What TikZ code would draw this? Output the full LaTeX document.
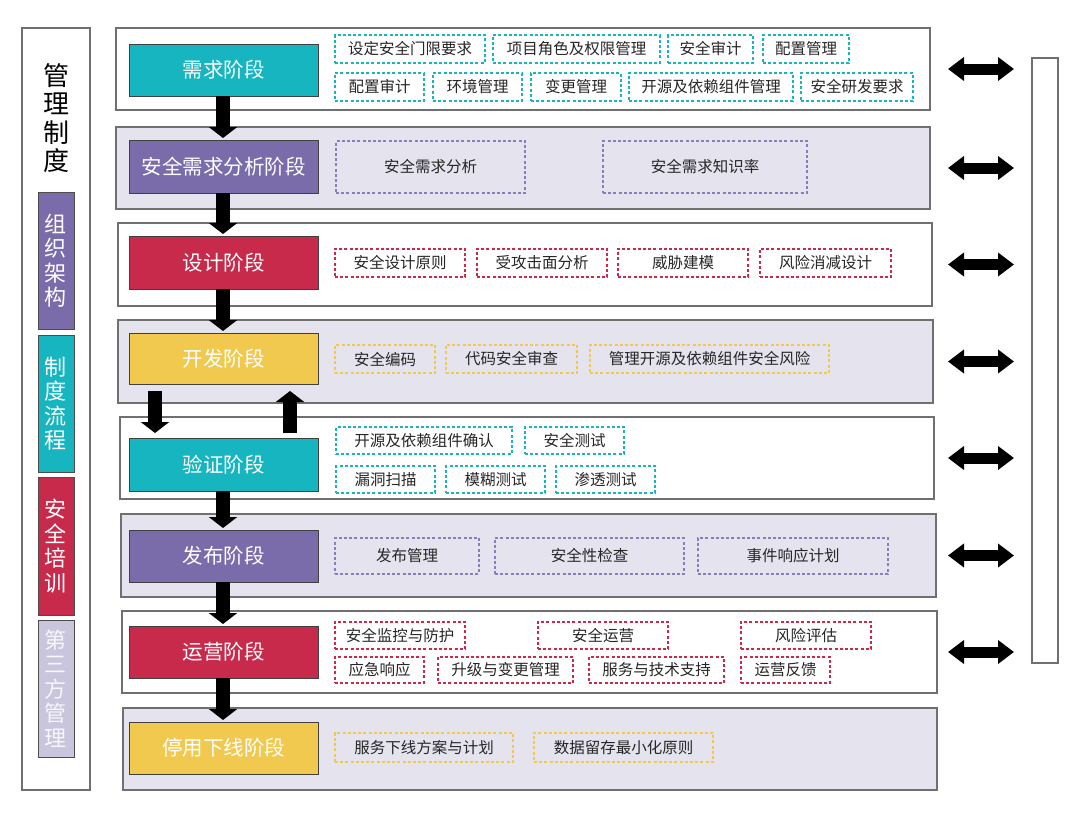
\documentclass[tikz,border=0pt]{standalone}
\usepackage{fontspec}
\setmainfont{Noto Sans CJK SC}
\usetikzlibrary{arrows.meta}
\definecolor{cteal}{HTML}{16B5C0}
\definecolor{cpurp}{HTML}{7A6BAA}
\definecolor{cred}{HTML}{C82A4B}
\definecolor{cyel}{HTML}{F2C94F}
\definecolor{clav}{HTML}{E4E3EE}
\definecolor{clavtwo}{HTML}{C9C5DD}
\definecolor{cdpurp}{HTML}{8B7DBC}
\definecolor{cgray}{HTML}{707070}
\newcommand\bx[7]{%
  \pgfmathsetmacro\bxw{#5-#3}\pgfmathsetmacro\bxh{#6-#4}%
  \pgfmathsetmacro\bxcx{(#3+#5)/2}\pgfmathsetmacro\bxcy{(#4+#6)/2}%
  \node[#2, minimum width=\bxw pt, minimum height=\bxh pt] (#1) at (\bxcx,\bxcy) {#7};}
\begin{document}
\begin{tikzpicture}[x=1pt,y=-1pt,
  panelW/.style={draw=cgray, line width=1.2pt, fill=white, inner sep=0pt, outer sep=0pt},
  panelL/.style={panelW, fill=clav},
  stagebox/.style={draw=black!75, line width=0.9pt, text=white, font=\fontsize{20.5}{24}\selectfont, inner sep=0pt, outer sep=0pt},
  lside/.style={draw=black!70, line width=0.9pt, text=white, font=\fontsize{22}{24.5}\selectfont, align=center, inner sep=0pt, outer sep=0pt},
  item/.style={dash pattern=on 3pt off 2.2pt, line width=1.4pt, font=\fontsize{15.5}{18}\selectfont, text=black!85, inner sep=0pt, outer sep=0pt},
  itT/.style={item, draw=cteal},
  itP/.style={item, draw=cdpurp},
  itR/.style={item, draw=cred},
  itY/.style={item, draw=cyel},
  flow/.style={line width=14pt, -{Triangle[width=28pt,length=11pt]}, black},
  dbl/.style={line width=11pt, {Triangle[width=23pt,length=16pt]}-{Triangle[width=23pt,length=16pt]}, black}
]
\useasboundingbox (0,0) rectangle (1080,817);
\fill[white] (0,0) rectangle (1080,817);

% left column
\bx{lc}{panelW}{22}{28}{90}{790}{}
\node[font=\fontsize{26}{28.3}\selectfont, align=center, inner sep=0pt] (title) at (56,118) {管\\理\\制\\度};
\bx{m1}{lside, fill=cpurp}{38}{192}{74}{329}{组\\织\\架\\构}
\bx{m2}{lside, fill=cteal}{38}{335}{74}{472}{制\\度\\流\\程}
\bx{m3}{lside, fill=cred}{38}{477}{74}{615}{安\\全\\培\\训}
\bx{m4}{lside, fill=clavtwo, text=white!85!clavtwo}{38}{620}{74}{757}{第\\三\\方\\管\\理}

% right column
\bx{rc}{panelW}{1032}{58}{1058}{663}{}

% row 1
\bx{r1}{panelW}{116}{28}{930}{110}{}
\bx{s1}{stagebox, fill=cteal}{129}{44}{318}{96}{需求阶段}
\bx{a1}{itT}{335}{35}{485}{63}{设定安全门限要求}
\bx{a2}{itT}{493}{35}{660}{63}{项目角色及权限管理}
\bx{a3}{itT}{668}{35}{753}{63}{安全审计}
\bx{a4}{itT}{763}{35}{849}{63}{配置管理}
\bx{a5}{itT}{335}{73}{424}{101}{配置审计}
\bx{a6}{itT}{433}{73}{522}{101}{环境管理}
\bx{a7}{itT}{531}{73}{621}{101}{变更管理}
\bx{a8}{itT}{629}{73}{793}{101}{开源及依赖组件管理}
\bx{a9}{itT}{801}{73}{913}{101}{安全研发要求}

% row 2
\bx{r2}{panelL}{116}{127}{930}{209}{}
\bx{s2}{stagebox, fill=cpurp}{129}{140}{318}{193}{安全需求分析阶段}
\bx{b1}{itP}{336}{141}{525}{193}{安全需求分析}
\bx{b2}{itP}{603}{141}{807}{193}{安全需求知识率}

% row 3
\bx{r3}{panelW}{118}{223}{932}{306}{}
\bx{s3}{stagebox, fill=cred}{129}{236}{318}{289}{设计阶段}
\bx{c1}{itR}{335}{249}{465}{277}{安全设计原则}
\bx{c2}{itR}{477}{249}{607}{277}{受攻击面分析}
\bx{c3}{itR}{618}{249}{748}{277}{威胁建模}
\bx{c4}{itR}{760}{249}{891}{277}{风险消减设计}

% row 4
\bx{r4}{panelL}{118}{320}{933}{403}{}
\bx{s4}{stagebox, fill=cyel}{129}{333}{318}{384}{开发阶段}
\bx{d1}{itY}{335}{345}{435}{373}{安全编码}
\bx{d2}{itY}{446}{345}{577}{373}{代码安全审查}
\bx{d3}{itY}{590}{345}{829}{373}{管理开源及依赖组件安全风险}

% row 5
\bx{r5}{panelW}{120}{417}{934}{499}{}
\bx{s5}{stagebox, fill=cteal}{129}{438}{318}{491}{验证阶段}
\bx{e1}{itT}{336}{427}{512}{454}{开源及依赖组件确认}
\bx{e2}{itT}{525}{427}{624}{454}{安全测试}
\bx{e3}{itT}{336}{466}{435}{493}{漏洞扫描}
\bx{e4}{itT}{446}{466}{545}{493}{模糊测试}
\bx{e5}{itT}{556}{466}{655}{493}{渗透测试}

% row 6
\bx{r6}{panelL}{121}{514}{936}{597}{}
\bx{s6}{stagebox, fill=cpurp}{129}{530}{318}{582}{发布阶段}
\bx{f1}{itP}{335}{538}{479}{574}{发布管理}
\bx{f2}{itP}{495}{538}{684}{574}{安全性检查}
\bx{f3}{itP}{698}{538}{888}{574}{事件响应计划}

% row 7
\bx{r7}{panelW}{122}{611}{937}{693}{}
\bx{s7}{stagebox, fill=cred}{129}{626}{318}{678}{运营阶段}
\bx{g1}{itR}{335}{622}{465}{649}{安全监控与防护}
\bx{g2}{itR}{538}{622}{668}{649}{安全运营}
\bx{g3}{itR}{741}{622}{871}{649}{风险评估}
\bx{g4}{itR}{335}{657}{424}{683}{应急响应}
\bx{g5}{itR}{438}{657}{573}{683}{升级与变更管理}
\bx{g6}{itR}{589}{657}{724}{683}{服务与技术支持}
\bx{g7}{itR}{741}{657}{830}{683}{运营反馈}

% row 8
\bx{r8}{panelL}{123}{708}{937}{790}{}
\bx{s8}{stagebox, fill=cyel}{129}{722}{318}{774}{停用下线阶段}
\bx{h1}{itY}{335}{733}{513}{762}{服务下线方案与计划}
\bx{h2}{itY}{534}{733}{713}{762}{数据留存最小化原则}

% flow arrows
\draw[flow, shorten >=2pt] ([xshift=-0.5pt]s1.south) -- ([xshift=-0.5pt]s2.north);
\draw[flow, shorten >=2pt] ([xshift=-0.5pt]s2.south) -- ([xshift=-0.5pt]s3.north);
\draw[flow, shorten >=2pt] ([xshift=-0.5pt]s3.south) -- ([xshift=-0.5pt]s4.north);
\draw[flow, shorten <=7pt, shorten >=5pt] ([xshift=26pt]s4.south west) -- ([xshift=26pt]s5.north west);
\draw[flow, shorten <=5pt, shorten >=7pt] ([xshift=-28pt]s5.north east) -- ([xshift=-28pt]s4.south east);
\draw[flow, shorten >=2pt] ([xshift=-0.5pt]s5.south) -- ([xshift=-0.5pt]s6.north);
\draw[flow, shorten >=2pt] ([xshift=-0.5pt]s6.south) -- ([xshift=-0.5pt]s7.north);
\draw[flow, shorten >=2pt] ([xshift=-0.5pt]s7.south) -- ([xshift=-0.5pt]s8.north);

% right double arrows
\coordinate (al) at (948,0);
\coordinate (ar) at (1014,0);
\foreach \r in {r1,r2,r3,r4,r5,r6,r7}{
  \draw[dbl] (al |- \r.east) -- (ar |- \r.east);
}
\end{tikzpicture}
\end{document}
